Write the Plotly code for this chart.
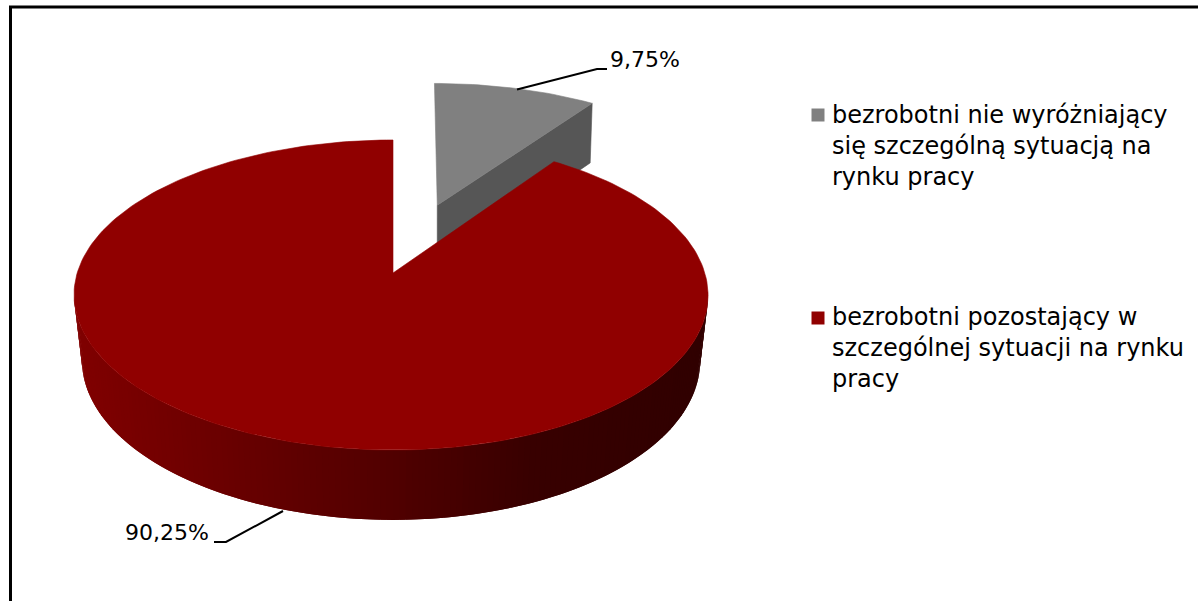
import math
import plotly.graph_objects as go

# Data
categories = ["bezrobotni nie wyróżniający się szczególną sytuacją na rynku pracy",
              "bezrobotni pozostający w szczególnej sytuacji na rynku pracy"]
legend_lines = [["bezrobotni nie wyróżniający", "się szczególną sytuacją na", "rynku pracy"],
                ["bezrobotni pozostający w", "szczególnej sytuacji na rynku", "pracy"]]
values = [9.75, 90.25]
value_labels = ["9,75%", "90,25%"]
colors_top = ["#808080", "#900000"]
grey_side = "#565656"
side_stops = [(0.0, (128, 0, 0)), (0.5, (80, 0, 0)), (0.72, (56, 0, 0)), (1.0, (48, 0, 0))]

FONT = "DejaVu Sans"
# Projection of the tilted disc on the page
P = 0.142


def project(u, v, level):
    w = 1 + P * v
    if level == "top":
        return 393 + 313.8 * u / w - 2 * u * u, 273 - 151.9 * v / w
    return 393 + 306 * u / w - 2 * u * u, 337.6 - 156.4 * v / w


def arc(a0, a1, n, r=1.0, du=0.0, dv=0.0, level="top"):
    pts = []
    for i in range(n + 1):
        t = math.radians(a0 + (a1 - a0) * i / n)
        pts.append(project(du + r * math.sin(t), dv + r * math.cos(t), level))
    return pts


def poly(pts, color, name, width=0.6):
    xs = [p[0] for p in pts] + [pts[0][0]]
    ys = [p[1] for p in pts] + [pts[0][1]]
    return go.Scatter(x=xs, y=ys, mode="lines", fill="toself", fillcolor=color,
                      line=dict(color=color, width=width), hoverinfo="skip",
                      showlegend=False, name=name)


def side_color(f):
    for (f0, c0), (f1, c1) in zip(side_stops, side_stops[1:]):
        if f <= f1:
            k = (f - f0) / (f1 - f0)
            return "rgb(%d,%d,%d)" % tuple(round(a + (b - a) * k) for a, b in zip(c0, c1))
    return "rgb(%d,%d,%d)" % side_stops[-1][1]


fig = go.Figure()

# Slice sweep comes from the values
grey_sweep = 360 * values[0] / sum(values)
mid = math.radians(grey_sweep / 2)
du, dv = 0.5 * math.sin(mid), 0.5 * math.cos(mid)
rim_du = du + 0.01  # rim of the exploded slice sits slightly right of its apex

# Exploded grey slice: wall, then top face
t_end = math.radians(grey_sweep)
corner_u, corner_v = rim_du + 1.04 * math.sin(t_end), dv + 1.04 * math.cos(t_end)
corner_top = project(corner_u, corner_v, "top")
corner_bot = (corner_top[0] - 2, project(corner_u, corner_v, "bot")[1])
apex_top = project(du, dv, "top")
apex_bot = (apex_top[0], project(du, dv, "bot")[1])
fig.add_trace(poly([apex_top, corner_top, corner_bot, apex_bot], grey_side, categories[0]))
fig.add_trace(poly([apex_top] + arc(0, grey_sweep, 30, 1.04, rim_du, dv), colors_top[0], categories[0]))

# Red wall, front half, shaded from left to right; each strip overlaps the next
right = math.degrees(math.acos(-P))
left = 360 - right
n = 160
for i in range(n):
    a0 = left + (right - left) * i / n
    a1 = left + (right - left) * min(i + 2, n) / n
    q = arc(a0, a1, 2) + arc(a1, a0, 2, level="bot")
    f = (q[0][0] - 74) / (708 - 74)
    fig.add_trace(poly(q, side_color(f), categories[1], width=0))

# Red top face
fig.add_trace(poly([project(0, 0, "top")] + arc(grey_sweep, 360, 240), colors_top[1], categories[1]))

# Frame
fig.add_trace(go.Scatter(x=[10.5, 10.5, 1198], y=[601, 7, 7], mode="lines",
                         line=dict(color="black", width=3), hoverinfo="skip", showlegend=False))

# Leader lines
fig.add_trace(go.Scatter(x=[517, 597, 607], y=[89.5, 69, 69], mode="lines",
                         line=dict(color="black", width=2), hoverinfo="skip", showlegend=False))
fig.add_trace(go.Scatter(x=[283, 226, 214], y=[511, 542, 542], mode="lines",
                         line=dict(color="black", width=2), hoverinfo="skip", showlegend=False))

# Legend swatches
fig.add_trace(go.Scatter(x=[818, 818], y=[115, 318], mode="markers",
                         marker=dict(symbol="square", size=13, color=colors_top, line=dict(width=0)),
                         hoverinfo="skip", showlegend=False))

annotations = [
    dict(x=609, y=59, text=value_labels[0], xanchor="left", yanchor="middle", size=22),
    dict(x=210, y=532, text=value_labels[1], xanchor="right", yanchor="middle", size=22),
]
for lines, y0 in zip(legend_lines, (146, 348)):
    annotations.append(dict(x=831, y=y0, text="<br>".join(lines), xanchor="left", yanchor="middle",
                            align="left", size=24))
for a in annotations:
    size = a.pop("size")
    a.update(xref="x", yref="y", showarrow=False, borderpad=0,
             font=dict(family=FONT, size=size, color="black"))

fig.update_layout(
    width=1198, height=601, margin=dict(l=0, r=0, t=0, b=0),
    paper_bgcolor="white", plot_bgcolor="white", showlegend=False,
    xaxis=dict(range=[0, 1198], visible=False, fixedrange=True),
    yaxis=dict(range=[601, 0], visible=False, fixedrange=True),
    annotations=annotations,
)
fig.write_html("out.html", config=dict(displayModeBar=False),
               post_script="document.body.style.margin='0';document.body.style.overflow='hidden';")
